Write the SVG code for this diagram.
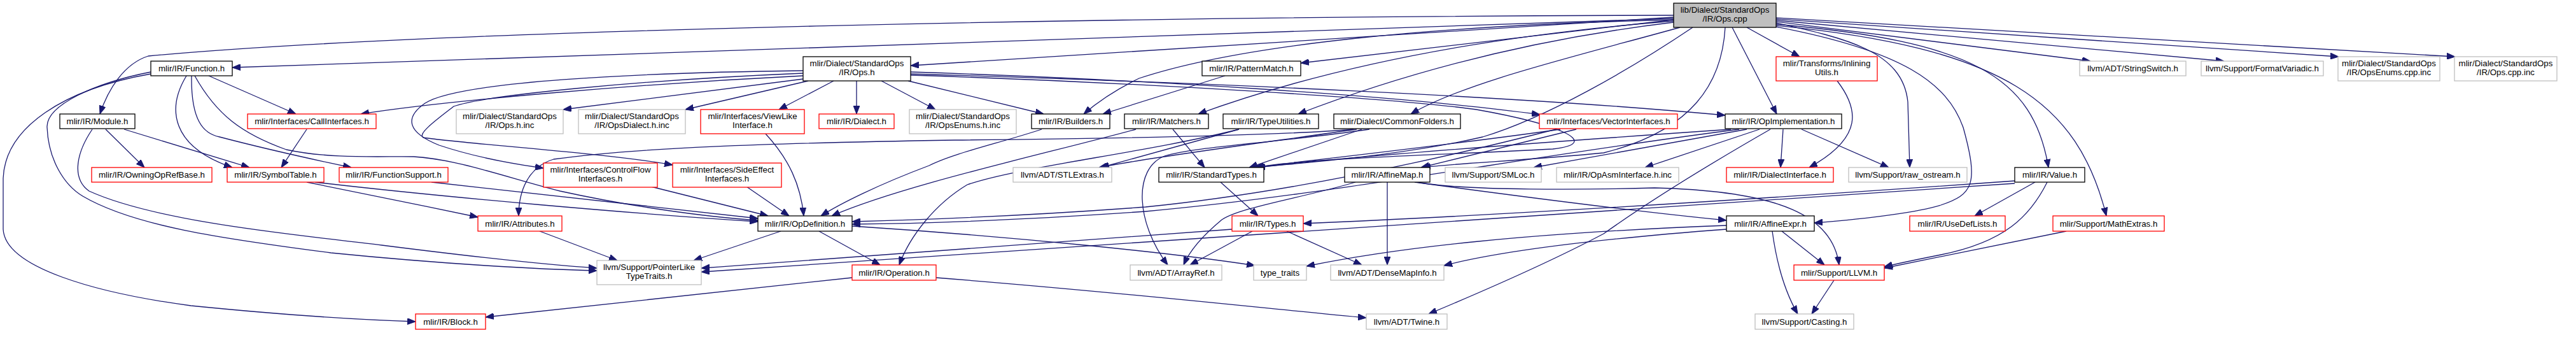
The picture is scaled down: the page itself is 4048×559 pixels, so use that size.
<svg xmlns="http://www.w3.org/2000/svg" width="4048" height="559" viewBox="0 0 4048 559">
<defs>
<style>
.n rect{stroke-width:1.3}
.k{fill:#fff;stroke:#000}
.r{fill:#fff;stroke:#f00}
.g{fill:#fff;stroke:#bfbfbf}
.rt{fill:#bfbfbf;stroke:#000}
text{font-family:"Liberation Sans",Arial,Helvetica,sans-serif;font-size:13.3px;text-anchor:middle;fill:#000}
#edges path{fill:none;stroke:#191970;stroke-width:1.3;marker-end:url(#a)}
</style>
<marker id="a" markerWidth="13" markerHeight="10" refX="13" refY="5" orient="auto" markerUnits="userSpaceOnUse">
<path d="M0,0 L13,5 L0,10 z" fill="#191970" stroke="#191970" stroke-width="1"/>
</marker>
</defs>
<rect width="4048" height="559" fill="#fff"/>
<g id="edges">
<path d="M2630,27 L1431,103"/>
<path d="M2630,29 L365,106"/>
<path d="M2630,24 C1800,26 700,45 233,88 C195,100 170,140 157,179"/>
<path d="M2630,31 C2250,40 1950,70 1790,123 C1755,140 1725,160 1703,179"/>
<path d="M2630,31 L2044,99"/>
<path d="M2630,33 C2350,55 2100,100 1883,179"/>
<path d="M2630,35 C2420,60 2220,110 2040,179"/>
<path d="M2640,43 C2470,90 2300,130 2217,179"/>
<path d="M2660,43 C2560,110 2430,185 2330,215 C2200,245 2050,255 1975,263"/>
<path d="M2711,43 C2706,130 2660,205 2520,240 C2400,252 2290,256 2235,263"/>
<path d="M2722,43 L2792,179"/>
<path d="M2745,43 L2828,89"/>
<path d="M2791,36 C2900,60 2990,80 2998,160 L3001,263"/>
<path d="M2791,38 C3100,65 3195,120 3219,263"/>
<path d="M2791,40 C3150,75 3265,160 3310,339"/>
<path d="M2791,34 L3285,96"/>
<path d="M2791,32 L3495,96"/>
<path d="M2791,30 L3675,89"/>
<path d="M2791,28 L3858,89"/>
<path d="M2791,42 C2990,80 3060,130 3085,200 C3110,290 3100,305 3050,322 C3000,337 2900,346 2851,350"/>
<path d="M1262,119 C1000,132 700,158 567,179"/>
<path d="M1262,111 C1000,114 720,128 668,162 C635,185 640,208 690,228 C750,248 810,258 854,264"/>
<path d="M1262,115 C1000,126 760,150 713,167 C690,185 655,210 665,216 C720,225 950,240 1057,259"/>
<path d="M1262,124 L885,172"/>
<path d="M1270,127 L1077,172"/>
<path d="M1310,127 L1224,172"/>
<path d="M1346,127 L1346,179"/>
<path d="M1385,127 L1470,172"/>
<path d="M1427,127 L1640,179"/>
<path d="M1431,113 C1800,125 2200,150 2420,180"/>
<path d="M1431,116 C1900,130 2400,152 2711,181"/>
<path d="M1431,118 C1800,130 2200,155 2320,172 C2450,195 2520,225 2440,234 C2300,242 2050,248 1973,263"/>
<path d="M328,119 L465,179"/>
<path d="M293,119 C262,170 268,230 365,263"/>
<path d="M301,119 C300,190 320,210 345,215 C410,232 490,250 552,263"/>
<path d="M306,119 C340,180 380,210 450,235 C520,250 600,245 650,246 C720,250 800,280 880,300 C980,322 1100,340 1191,346"/>
<path d="M237,116 C100,140 8,200 5,280 L5,360 C8,420 150,460 300,480 C450,495 560,502 653,505"/>
<path d="M237,113 C150,130 72,165 74,200 C76,250 100,290 130,308 C210,355 350,375 520,397 C700,415 850,423 938,425"/>
<path d="M166,203 L227,263"/>
<path d="M195,203 L392,263"/>
<path d="M145,203 C120,240 112,280 140,300 C250,350 480,370 600,385 C750,404 860,416 938,421"/>
<path d="M482,203 L442,263"/>
<path d="M482,286 C560,302 660,322 751,341"/>
<path d="M495,286 C700,310 1000,336 1191,348"/>
<path d="M678,286 L1191,343"/>
<path d="M1023,293 L1207,339"/>
<path d="M1173,293 L1240,339"/>
<path d="M1203,210 C1240,250 1258,290 1263,339"/>
<path d="M848,363 L970,409"/>
<path d="M1227,363 L1090,409"/>
<path d="M1287,363 L1383,416"/>
<path d="M1339,355 C1600,372 1850,398 1972,417"/>
<path d="M1339,436 C1100,460 900,482 763,498"/>
<path d="M1471,436 C1800,462 2000,486 2147,499"/>
<path d="M1637,203 C1570,225 1500,240 1460,260 C1380,290 1320,320 1290,339"/>
<path d="M1785,203 C1650,240 1420,290 1307,339"/>
<path d="M1843,203 L1893,263"/>
<path d="M1925,119 L1733,179"/>
<path d="M1947,203 C1800,240 1600,262 1520,290 C1470,320 1430,370 1413,416"/>
<path d="M1947,203 L1730,263"/>
<path d="M2127,203 C2000,214 1700,218 1500,220 C1200,225 1000,232 870,250 C830,262 815,300 815,339"/>
<path d="M2132,203 C2000,222 1800,248 1727,263"/>
<path d="M2140,203 L1963,263"/>
<path d="M2152,203 C2000,225 1880,230 1830,245 C1780,265 1785,350 1835,416"/>
<path d="M2477,203 L2233,263"/>
<path d="M2452,203 C2300,225 2100,247 1970,263"/>
<path d="M2445,203 C2300,240 2050,300 1800,325 C1600,340 1450,345 1339,348"/>
<path d="M2733,203 C2400,245 2100,305 1800,332 C1600,346 1450,351 1339,352"/>
<path d="M2745,203 L2410,263"/>
<path d="M2720,203 C2400,225 2100,248 1975,263"/>
<path d="M2765,203 L2585,263"/>
<path d="M2802,203 L2798,263"/>
<path d="M2831,203 L2968,263"/>
<path d="M2782,203 C2700,250 2600,310 2520,367 C2420,420 2300,470 2245,493"/>
<path d="M2887,127 C2920,170 2930,215 2843,263"/>
<path d="M2180,286 L2180,416"/>
<path d="M2223,286 C2400,310 2600,335 2713,346"/>
<path d="M2227,286 C2300,300 2500,298 2600,295 C2800,300 2880,340 2890,416"/>
<path d="M2130,286 C2050,310 1950,325 1920,345 C1890,370 1870,392 1860,416"/>
<path d="M1968,363 L1870,416"/>
<path d="M2022,363 L2140,416"/>
<path d="M1936,360 C1700,378 1400,400 1102,421"/>
<path d="M1918,286 L1977,339"/>
<path d="M2713,354 C2400,366 2200,388 2053,418"/>
<path d="M2713,360 C2500,376 2350,396 2269,417"/>
<path d="M2800,363 L2867,416"/>
<path d="M2785,363 C2790,400 2800,450 2825,493"/>
<path d="M2882,440 L2847,493"/>
<path d="M3198,286 L3103,339"/>
<path d="M3217,286 C3190,340 3150,380 3050,400 C3000,410 2980,414 2961,419"/>
<path d="M3166,284 C2800,310 2400,336 2048,351"/>
<path d="M3166,288 C2700,320 2000,360 1102,427"/>
<path d="M3247,363 L2961,421"/>
</g>
<g id="n_root" class="n"><rect class="rt" x="2630" y="5" width="161" height="38"/><text x="2710.5" y="20">lib/Dialect/StandardOps</text><text x="2710.5" y="34">/IR/Ops.cpp</text></g>
<g id="n_opsh" class="n"><rect class="k" x="1262" y="89" width="169" height="38"/><text x="1346.5" y="104">mlir/Dialect/StandardOps</text><text x="1346.5" y="118">/IR/Ops.h</text></g>
<g id="n_function" class="n"><rect class="k" x="237" y="96" width="128" height="23"/><text x="301" y="112">mlir/IR/Function.h</text></g>
<g id="n_patternmatch" class="n"><rect class="k" x="1889" y="96" width="155" height="23"/><text x="1966.5" y="112">mlir/IR/PatternMatch.h</text></g>
<g id="n_inlining" class="n"><rect class="r" x="2791" y="89" width="159" height="38"/><text x="2870.5" y="104">mlir/Transforms/Inlining</text><text x="2870.5" y="118">Utils.h</text></g>
<g id="n_stringswitch" class="n"><rect class="g" x="3268" y="96" width="167" height="23"/><text x="3351.5" y="112">llvm/ADT/StringSwitch.h</text></g>
<g id="n_formatvariadic" class="n"><rect class="g" x="3459" y="96" width="192" height="23"/><text x="3555" y="112">llvm/Support/FormatVariadic.h</text></g>
<g id="n_opsenumscppinc" class="n"><rect class="g" x="3674" y="89" width="160" height="38"/><text x="3754" y="104">mlir/Dialect/StandardOps</text><text x="3754" y="118">/IR/OpsEnums.cpp.inc</text></g>
<g id="n_opscppinc" class="n"><rect class="g" x="3857" y="89" width="161" height="38"/><text x="3937.5" y="104">mlir/Dialect/StandardOps</text><text x="3937.5" y="118">/IR/Ops.cpp.inc</text></g>
<g id="n_module" class="n"><rect class="k" x="94" y="179" width="118" height="23"/><text x="153" y="195">mlir/IR/Module.h</text></g>
<g id="n_callinterfaces" class="n"><rect class="r" x="389" y="179" width="202" height="23"/><text x="490" y="195">mlir/Interfaces/CallInterfaces.h</text></g>
<g id="n_opshinc" class="n"><rect class="g" x="717" y="172" width="168" height="38"/><text x="801" y="187">mlir/Dialect/StandardOps</text><text x="801" y="201">/IR/Ops.h.inc</text></g>
<g id="n_opsdialecthinc" class="n"><rect class="g" x="909" y="172" width="168" height="38"/><text x="993" y="187">mlir/Dialect/StandardOps</text><text x="993" y="201">/IR/OpsDialect.h.inc</text></g>
<g id="n_viewlike" class="n"><rect class="r" x="1101" y="172" width="163" height="38"/><text x="1182.5" y="187">mlir/Interfaces/ViewLike</text><text x="1182.5" y="201">Interface.h</text></g>
<g id="n_dialect" class="n"><rect class="r" x="1287" y="179" width="118" height="23"/><text x="1346" y="195">mlir/IR/Dialect.h</text></g>
<g id="n_opsenumshinc" class="n"><rect class="g" x="1429" y="172" width="168" height="38"/><text x="1513" y="187">mlir/Dialect/StandardOps</text><text x="1513" y="201">/IR/OpsEnums.h.inc</text></g>
<g id="n_builders" class="n"><rect class="k" x="1621" y="179" width="123" height="23"/><text x="1682.5" y="195">mlir/IR/Builders.h</text></g>
<g id="n_matchers" class="n"><rect class="k" x="1767" y="179" width="132" height="23"/><text x="1833" y="195">mlir/IR/Matchers.h</text></g>
<g id="n_typeutilities" class="n"><rect class="k" x="1922" y="179" width="150" height="23"/><text x="1997" y="195">mlir/IR/TypeUtilities.h</text></g>
<g id="n_commonfolders" class="n"><rect class="k" x="2096" y="179" width="199" height="23"/><text x="2195.5" y="195">mlir/Dialect/CommonFolders.h</text></g>
<g id="n_vectorinterfaces" class="n"><rect class="r" x="2419" y="179" width="217" height="23"/><text x="2527.5" y="195">mlir/Interfaces/VectorInterfaces.h</text></g>
<g id="n_opimplementation" class="n"><rect class="k" x="2711" y="179" width="183" height="23"/><text x="2802.5" y="195">mlir/IR/OpImplementation.h</text></g>
<g id="n_owningopref" class="n"><rect class="r" x="144" y="263" width="189" height="23"/><text x="238.5" y="279">mlir/IR/OwningOpRefBase.h</text></g>
<g id="n_symboltable" class="n"><rect class="r" x="357" y="263" width="152" height="23"/><text x="433" y="279">mlir/IR/SymbolTable.h</text></g>
<g id="n_functionsupport" class="n"><rect class="r" x="533" y="263" width="171" height="23"/><text x="618.5" y="279">mlir/IR/FunctionSupport.h</text></g>
<g id="n_controlflow" class="n"><rect class="r" x="854" y="256" width="179" height="38"/><text x="943.5" y="271">mlir/Interfaces/ControlFlow</text><text x="943.5" y="285">Interfaces.h</text></g>
<g id="n_sideeffect" class="n"><rect class="r" x="1057" y="256" width="171" height="38"/><text x="1142.5" y="271">mlir/Interfaces/SideEffect</text><text x="1142.5" y="285">Interfaces.h</text></g>
<g id="n_stlextras" class="n"><rect class="g" x="1592" y="263" width="155" height="23"/><text x="1669.5" y="279">llvm/ADT/STLExtras.h</text></g>
<g id="n_standardtypes" class="n"><rect class="k" x="1821" y="263" width="165" height="23"/><text x="1903.5" y="279">mlir/IR/StandardTypes.h</text></g>
<g id="n_affinemap" class="n"><rect class="k" x="2113" y="263" width="134" height="23"/><text x="2180" y="279">mlir/IR/AffineMap.h</text></g>
<g id="n_smloc" class="n"><rect class="g" x="2271" y="263" width="151" height="23"/><text x="2346.5" y="279">llvm/Support/SMLoc.h</text></g>
<g id="n_opasminterface" class="n"><rect class="g" x="2446" y="263" width="192" height="23"/><text x="2542" y="279">mlir/IR/OpAsmInterface.h.inc</text></g>
<g id="n_dialectinterface" class="n"><rect class="r" x="2713" y="263" width="168" height="23"/><text x="2797" y="279">mlir/IR/DialectInterface.h</text></g>
<g id="n_rawostream" class="n"><rect class="g" x="2905" y="263" width="186" height="23"/><text x="2998" y="279">llvm/Support/raw_ostream.h</text></g>
<g id="n_value" class="n"><rect class="k" x="3166" y="263" width="110" height="23"/><text x="3221" y="279">mlir/IR/Value.h</text></g>
<g id="n_attributes" class="n"><rect class="r" x="751" y="339" width="132" height="24"/><text x="817" y="355.5">mlir/IR/Attributes.h</text></g>
<g id="n_opdefinition" class="n"><rect class="k" x="1191" y="339" width="148" height="24"/><text x="1265" y="355.5">mlir/IR/OpDefinition.h</text></g>
<g id="n_types" class="n"><rect class="r" x="1936" y="339" width="112" height="24"/><text x="1992" y="355.5">mlir/IR/Types.h</text></g>
<g id="n_affineexpr" class="n"><rect class="k" x="2713" y="339" width="138" height="24"/><text x="2782" y="355.5">mlir/IR/AffineExpr.h</text></g>
<g id="n_usedeflists" class="n"><rect class="r" x="3001" y="339" width="150" height="24"/><text x="3076" y="355.5">mlir/IR/UseDefLists.h</text></g>
<g id="n_mathextras" class="n"><rect class="r" x="3226" y="339" width="175" height="24"/><text x="3313.5" y="355.5">mlir/Support/MathExtras.h</text></g>
<g id="n_pointerlike" class="n"><rect class="g" x="938" y="409" width="164" height="38"/><text x="1020" y="424">llvm/Support/PointerLike</text><text x="1020" y="438">TypeTraits.h</text></g>
<g id="n_operation" class="n"><rect class="r" x="1339" y="416" width="132" height="24"/><text x="1405" y="432.5">mlir/IR/Operation.h</text></g>
<g id="n_arrayref" class="n"><rect class="g" x="1776" y="416" width="144" height="24"/><text x="1848" y="432.5">llvm/ADT/ArrayRef.h</text></g>
<g id="n_typetraits" class="n"><rect class="g" x="1970" y="416" width="83" height="24"/><text x="2011.5" y="432.5">type_traits</text></g>
<g id="n_densemapinfo" class="n"><rect class="g" x="2091" y="416" width="178" height="24"/><text x="2180" y="432.5">llvm/ADT/DenseMapInfo.h</text></g>
<g id="n_llvm" class="n"><rect class="r" x="2819" y="416" width="142" height="24"/><text x="2890" y="432.5">mlir/Support/LLVM.h</text></g>
<g id="n_block" class="n"><rect class="r" x="653" y="493" width="110" height="24"/><text x="708" y="509.5">mlir/IR/Block.h</text></g>
<g id="n_twine" class="n"><rect class="g" x="2147" y="493" width="127" height="24"/><text x="2210.5" y="509.5">llvm/ADT/Twine.h</text></g>
<g id="n_casting" class="n"><rect class="g" x="2758" y="493" width="155" height="24"/><text x="2835.5" y="509.5">llvm/Support/Casting.h</text></g>
</svg>
